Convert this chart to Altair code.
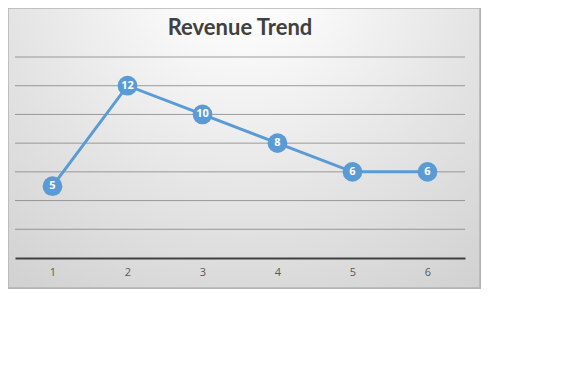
import altair as alt
import pandas as pd

periods = ["1", "2", "3", "4", "5", "6"]
revenue = [5, 12, 10, 8, 6, 6]
grid_values = [2, 4, 6, 8, 10, 12, 14]
title_text = "Revenue Trend"

df = pd.DataFrame({"period": periods, "revenue": revenue})
gdf = pd.DataFrame({"g": grid_values})
tdf = pd.DataFrame({"t": [title_text]})

y_scale = alt.Scale(domain=[0, 14], nice=False)

x_enc = alt.X("period:O", sort=periods,
              scale=alt.Scale(type="point", padding=0.5),
              axis=alt.Axis(title=None, labelAngle=0, ticks=False, grid=False,
                            domainColor="#404040", domainWidth=2,
                            labelColor="#595959", labelFontSize=11,
                            labelFont="Open Sans", labelPadding=8, zindex=1))
y_enc = alt.Y("revenue:Q", scale=y_scale, axis=None)

bg = alt.Chart(df).mark_rect(
    fill=alt.Gradient(
        gradient="radial",
        x1=0.5, y1=0.12, r1=0.0,
        x2=0.5, y2=0.12, r2=1.0,
        stops=[alt.GradientStop(offset=0, color="#ffffff"),
               alt.GradientStop(offset=0.15, color="#fafafa"),
               alt.GradientStop(offset=0.5, color="#e4e4e4"),
               alt.GradientStop(offset=1, color="#c8c8c8")]),
    stroke="#b4b4b4", strokeWidth=1.5
).encode(x=alt.value(-7), x2=alt.value(465), y=alt.value(-49), y2=alt.value(231))

grid = alt.Chart(gdf).mark_rule(color="#7f7f7f", opacity=0.75, strokeWidth=1).encode(
    y=alt.Y("g:Q", scale=y_scale, axis=None), x=alt.value(0), x2=alt.value(450))

title = alt.Chart(tdf).mark_text(font="Lato", fontSize=22, fontWeight="bold",
                                 color="#404040", align="center",
                                 baseline="alphabetic").encode(
    x=alt.value(225), y=alt.value(-22), text="t:N")

line = alt.Chart(df).mark_line(color="#5b9bd5", strokeWidth=3).encode(x=x_enc, y=y_enc)
pts = alt.Chart(df).mark_circle(color="#5b9bd5", opacity=1, size=390).encode(x=x_enc, y=y_enc)
lbl = alt.Chart(df).mark_text(color="white", fontWeight="bold", fontSize=11,
                              font="Open Sans", baseline="middle", align="center").encode(
    x=x_enc, y=y_enc, text="revenue:Q")

chart = alt.layer(bg, grid, title, line, pts, lbl).properties(
    width=450, height=201,
    padding={"left": 7, "top": 49, "right": 16, "bottom": 31},
    autosize=alt.AutoSizeParams(type="none"),
).configure_view(stroke=None).configure(background="white")

chart.save("out.html", embed_options={"renderer": "svg", "actions": False})
